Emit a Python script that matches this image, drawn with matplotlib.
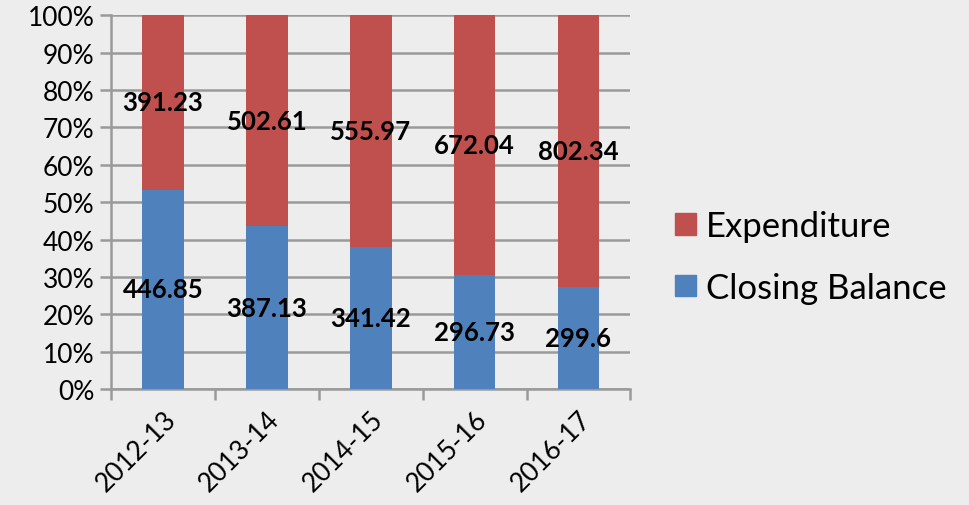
import matplotlib.pyplot as plt
from matplotlib.patches import Patch

# data
years = ['2012-13', '2013-14', '2014-15', '2015-16', '2016-17']
closing = [446.85, 387.13, 341.42, 296.73, 299.6]
expend = [391.23, 502.61, 555.97, 672.04, 802.34]
labels_closing = ['446.85', '387.13', '341.42', '296.73', '299.6']
labels_expend = ['391.23', '502.61', '555.97', '672.04', '802.34']

plt.rcParams['font.family'] = ['Lato', 'DejaVu Sans']

tot = [c + e for c, e in zip(closing, expend)]
pc = [c / t * 100 for c, t in zip(closing, tot)]
pe = [e / t * 100 for e, t in zip(expend, tot)]

fig = plt.figure(figsize=(9.69, 5.06), dpi=100, facecolor='#EDEDED')
ax = fig.add_axes([0.1146, 0.229, 0.536, 0.739])
ax.set_facecolor('#EDEDED')

x = list(range(len(years)))
b1 = ax.bar(x, pc, width=0.4, color='#4F81BD', zorder=3)
b2 = ax.bar(x, pe, width=0.4, bottom=pc, color='#C0504D', zorder=3)
ax.bar_label(b1, labels=labels_closing, label_type='center', fontsize=18.5,
             fontweight='bold', color='black', zorder=4)
ax.bar_label(b2, labels=labels_expend, label_type='center', fontsize=18.5,
             fontweight='bold', color='black', zorder=4)

ax.set_ylim(0, 100)
ax.set_xlim(-0.5, len(years) - 0.5)
ax.set_yticks(range(0, 101, 10))
ax.set_yticklabels([f'{v}%' for v in range(0, 101, 10)], fontsize=19)
ax.yaxis.grid(True, color='#9A9A9A', linewidth=1.8, zorder=0)
ax.tick_params(axis='y', length=8, width=1.8, color='#9A9A9A', pad=4)

# category ticks at boundaries, labels at centers
ax.set_xticks([i - 0.5 for i in range(len(years) + 1)])
ax.set_xticklabels([])
ax.set_xticks(x, minor=True)
ax.set_xticklabels(years, minor=True, rotation=45, ha='right',
                   rotation_mode='anchor', fontsize=19)
ax.tick_params(axis='x', which='major', length=8, width=1.8, color='#9A9A9A')
ax.tick_params(axis='x', which='minor', length=0, pad=12)

for s in ['top', 'right']:
    ax.spines[s].set_visible(False)
for s in ['left', 'bottom']:
    ax.spines[s].set_color('#9A9A9A')
    ax.spines[s].set_linewidth(1.8)

handles = [Patch(color='#C0504D'), Patch(color='#4F81BD')]
fig.legend(handles, ['Expenditure', 'Closing Balance'], loc='center left',
           bbox_to_anchor=(0.697, 0.49), frameon=False, fontsize=25,
           handlelength=0.58, handleheight=0.58, handletextpad=0.3,
           labelspacing=0.85, borderaxespad=0, borderpad=0)

fig.savefig('out.png', dpi=100, facecolor=fig.get_facecolor())
